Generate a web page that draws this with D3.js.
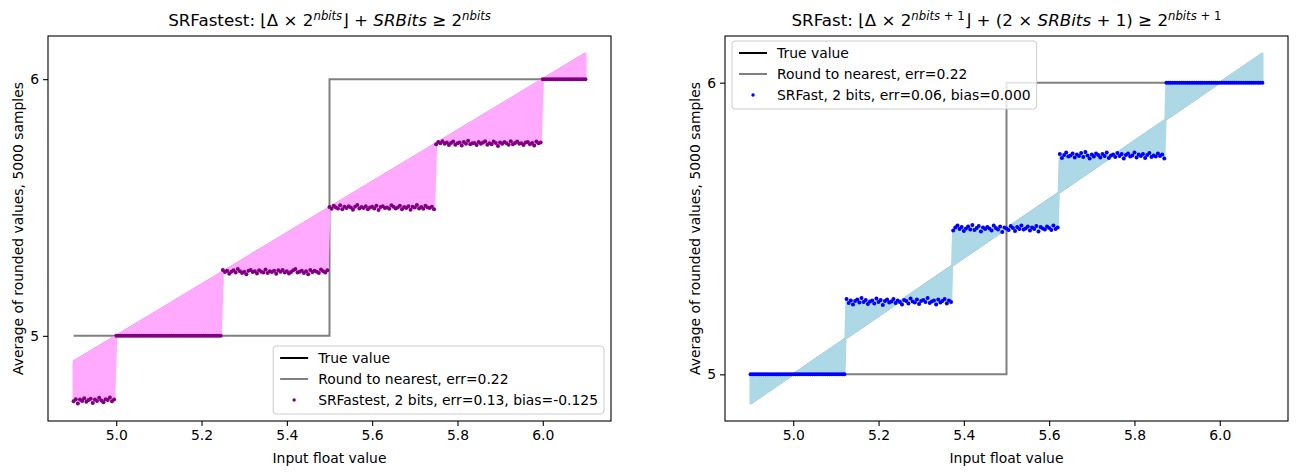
<!DOCTYPE html>
<html>
<head>
<meta charset="utf-8">
<title>SR rounding</title>
<script src="https://d3js.org/d3.v7.min.js"></script>
<style>
  body { margin: 0; background: #fff; }
  svg text { font-family: "DejaVu Sans", sans-serif; fill: #000; }
</style>
</head>
<body>
<svg id="chart" width="1298" height="474"></svg>
<script>
// input float values (np.linspace-like grid)
const inputStart = 4.9, inputEnd = 6.1, inputStep = 0.005;
const xTicks = [5.0, 5.2, 5.4, 5.6, 5.8, 6.0];
const yTicks = [5, 6];

// round to nearest
const nearestX = [4.9, 5.5, 5.5, 6.1];
const nearestY = [5, 5, 6, 6];

const noiseUnit = 0.0017;

// SRFastest: averages per input interval
const fastestBreaks = [4.9, 5.0, 5.25, 5.5, 5.75, 6.0, 6.1];
const fastestLevels = [4.75, 5.0, 5.25, 5.5, 5.75, 6.0];
const fastestNoise = [
  [-3, 2, -8, 1, -2, 4, -4, 0, 3, -7, 1, -2, 5, -1, -5, 2, 0, 6, -3, 1],
  [],
  [4, -1, 2, -5, 0, 3, -2, 6, 1, -3, 0, -6, 2, 4, -1, 1, -4, 3, 0, -2, 5, -3, 1, -1, 2, -5, 3, 0, 4, -2, 1, -4, -1, 3, 6, -2, 0, 2, -3, 1, -6, 4, -1, 2, 0, -3, 5, 1, -2, 3],
  [1, -3, 4, 0, -2, 5, -4, 2, -1, 3, 0, -5, 2, 6, -2, 1, -1, 3, -4, 0, 2, -2, 4, -6, 1, 3, -1, 0, -3, 5, 2, -2, 0, 4, -4, 1, -1, 3, -5, 2, 0, 6, -2, 1, -3, 4, 0, -1, 2, -4],
  [-2, 3, 0, 5, -1, 2, -4, 1, 4, -3, 0, 2, -5, 3, -1, 6, -2, 0, 1, -4, 3, -1, 2, 5, -3, 0, -2, 4, 1, -6, 2, -1, 3, 0, -3, 5, -2, 1, 4, -1, 0, -4, 2, 3, -2, 1, -5, 4, 0, 2],
  []
];

// SRFast
const fastBreaks = [4.9, 5.125, 5.375, 5.625, 5.875, 6.1];
const fastLevels = [5.0, 5.25, 5.5, 5.75, 6.0];
const fastNoise = [
  [],
  [5, -3, 2, -6, 1, 4, -2, 7, -1, 3, -5, 0, 2, -4, 6, -1, 3, -7, 1, 4, -2, 0, 5, -3, 2, -1, -6, 3, 1, -4, 6, 0, -2, 4, -5, 1, 3, -1, 7, -3, 0, 2, -6, 4, -2, 1, 5, -4, 2, -1],
  [-4, 2, 6, -1, 3, -5, 0, 4, -2, 7, -3, 1, 5, -6, 2, -1, 3, 0, -4, 6, 1, -2, 4, -7, 2, 0, -3, 5, 1, -5, 3, -1, 6, -2, 0, 4, -4, 2, -1, 5, -6, 3, 0, -2, 4, 1, -3, 6, -1, 2],
  [3, -5, 1, 6, -2, 0, 4, -4, 2, -1, 5, -3, 7, 0, -6, 2, -2, 4, 1, -4, 3, -1, 6, -5, 0, 2, -3, 5, -1, 3, -6, 1, 4, -2, 0, 6, -4, 2, -1, 3, -5, 1, 5, -3, 0, -2, 4, -1, 2, -6],
  []
];

const svg = d3.select("#chart");
const inputs = d3.range(0, Math.round((inputEnd - inputStart) / inputStep) + 1)
  .map(i => +(inputStart + i * inputStep).toFixed(4));

function averages(breaks, levels, noise) {
  const counts = levels.map(() => 0);
  return inputs.map(v => {
    let s = breaks.findIndex((b, i) => i < levels.length && v >= b - 1e-9 && v < breaks[i + 1] - 1e-9);
    if (s < 0) s = levels.length - 1;
    const k = counts[s]++;
    return {x: v, avg: levels[s] + (noise[s][k] || 0) * noiseUnit};
  });
}

function title(g, cx, parts) {
  const t = g.append("text").attr("x", cx).attr("y", 26)
    .attr("text-anchor", "middle").style("font-size", "16.7px");
  let up = false;
  parts.forEach(([txt, kind]) => {
    const sup = kind.includes("s");
    const ts = t.append("tspan").text(txt);
    if (sup && !up) { ts.attr("dy", -6.5); up = true; }
    if (!sup && up) { ts.attr("dy", 6.5); up = false; }
    if (sup) ts.style("font-size", "11.7px");
    if (kind.includes("i")) ts.style("font-style", "italic");
  });
}

function panel(p) {
  const data = averages(p.breaks, p.levels, p.noise);
  const xs = [inputStart, inputEnd];
  const ys = d3.extent(data.map(d => d.avg).concat(inputs, nearestY));
  const xm = (xs[1] - xs[0]) * 0.05, ym = (ys[1] - ys[0]) * 0.05;
  const x = d3.scaleLinear().domain([xs[0] - xm, xs[1] + xm]).range([p.left, p.right]);
  const y = d3.scaleLinear().domain([ys[0] - ym, ys[1] + ym]).range([421, 36]);

  const g = svg.append("g");
  const clipId = "clip" + p.left;
  g.append("clipPath").attr("id", clipId).append("rect")
    .attr("x", p.left).attr("y", 36).attr("width", p.right - p.left).attr("height", 385);
  const plot = g.append("g").attr("clip-path", `url(#${clipId})`);

  plot.append("path")
    .attr("d", d3.line()([[x(inputStart), y(inputStart)], [x(inputEnd), y(inputEnd)]]))
    .attr("stroke", "#000").attr("stroke-width", 1.5).attr("fill", "none");

  plot.append("path")
    .attr("d", d3.line().x(d => x(d[0])).y(d => y(d[1]))(nearestX.map((v, i) => [v, nearestY[i]])))
    .attr("stroke", "#808080").attr("stroke-width", 2).attr("fill", "none");

  plot.append("path").datum(data)
    .attr("d", d3.area().x(d => x(d.x)).y0(d => y(d.avg)).y1(d => y(d.x)))
    .attr("fill", p.fill).attr("stroke", p.fill).attr("stroke-width", 2.2)
    .attr("stroke-linejoin", "round");

  plot.selectAll(".dot").data(data).enter().append("circle")
    .attr("class", "dot")
    .attr("cx", d => x(d.x)).attr("cy", d => y(d.avg)).attr("r", 2)
    .attr("fill", p.dot);

  // axes
  const xa = g.append("g").attr("transform", "translate(0,421)")
    .call(d3.axisBottom(x).tickValues(xTicks).tickFormat(d3.format(".1f")).tickSize(5).tickPadding(4));
  const ya = g.append("g").attr("transform", `translate(${p.left},0)`)
    .call(d3.axisLeft(y).tickValues(yTicks).tickFormat(d3.format("d")).tickSize(5).tickPadding(4));
  [xa, ya].forEach(a => {
    a.select(".domain").remove();
    a.selectAll("line").attr("stroke", "#000").attr("stroke-width", 1.1);
    a.selectAll("text").style("font-size", "13.9px").attr("fill", "#000");
  });
  g.append("rect").attr("x", p.left).attr("y", 36)
    .attr("width", p.right - p.left).attr("height", 385)
    .attr("fill", "none").attr("stroke", "#000").attr("stroke-width", 1.1);

  g.append("text").attr("x", (p.left + p.right) / 2).attr("y", 463)
    .attr("text-anchor", "middle").style("font-size", "13.9px").text("Input float value");
  g.append("text").attr("transform", `translate(${p.left - 25},228.5) rotate(-90)`)
    .attr("text-anchor", "middle").style("font-size", "13.9px")
    .text("Average of rounded values, 5000 samples");

  title(g, (p.left + p.right) / 2, p.title);

  // legend
  const lg = g.append("g");
  const box = lg.append("rect").attr("rx", 3)
    .attr("fill", "#fff").attr("fill-opacity", 0.8).attr("stroke", "#ccc").attr("stroke-width", 1);
  const labels = ["True value", "Round to nearest, err=0.22", p.label];
  let maxW = 0;
  labels.forEach((lab, i) => {
    const cy = 12 + i * 21;
    if (i < 2) {
      lg.append("line").attr("x1", 7).attr("x2", 35).attr("y1", cy).attr("y2", cy)
        .attr("stroke", i === 0 ? "#000" : "#808080").attr("stroke-width", 2);
    } else {
      lg.append("circle").attr("cx", 21).attr("cy", cy).attr("r", 1.7).attr("fill", p.dot);
    }
    const t = lg.append("text").attr("x", 45).attr("y", cy + 5).style("font-size", "13.9px").text(lab);
    maxW = Math.max(maxW, t.node().getComputedTextLength());
  });
  const bw = 45 + maxW + 6, bh = 68;
  box.attr("width", bw).attr("height", bh);
  const lx = p.legendRight ? p.right - 7 - bw : p.left + 7;
  const ly = p.legendRight ? 421 - 7 - bh : 36 + 5;
  lg.attr("transform", `translate(${lx},${ly})`);
}

panel({
  left: 48, right: 611,
  breaks: fastestBreaks, levels: fastestLevels, noise: fastestNoise,
  fill: "#ffaaff", dot: "#800080", legendRight: true,
  label: "SRFastest, 2 bits, err=0.13, bias=-0.125",
  title: [["SRFastest: ", "n"], ["\u230AΔ × 2", "n"], ["nbits", "si"], ["\u230B + ", "n"],
          ["SRBits", "i"], [" ≥ 2", "n"], ["nbits", "si"]]
});

panel({
  left: 725, right: 1288,
  breaks: fastBreaks, levels: fastLevels, noise: fastNoise,
  fill: "#add8e6", dot: "#0000ff", legendRight: false,
  label: "SRFast, 2 bits, err=0.06, bias=0.000",
  title: [["SRFast: ", "n"], ["\u230AΔ × 2", "n"], ["nbits", "si"], [" + 1", "s"], ["\u230B + (2 × ", "n"],
          ["SRBits", "i"], [" + 1) ≥ 2", "n"], ["nbits", "si"], [" + 1", "s"]]
});
</script>
</body>
</html>
